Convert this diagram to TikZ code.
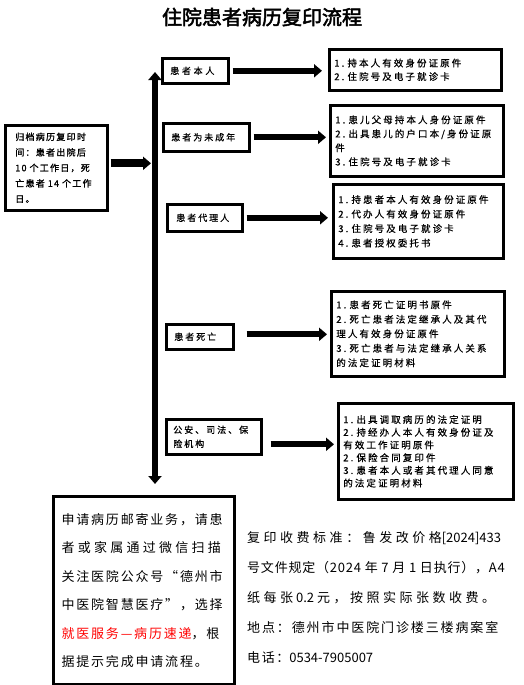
\documentclass[tikz,border=0pt]{standalone}
\usepackage{fontspec}
\setmainfont{Noto Sans CJK SC}
\newfontfamily\smallf[LetterSpace=22,FakeBold=0.6]{Noto Sans CJK SC}
\newfontfamily\smallbf[LetterSpace=14,FakeBold=1.5]{Noto Sans CJK SC}
\newfontfamily\bigf[LetterSpace=14]{Noto Sans CJK SC}
\newfontfamily\plainf{Noto Sans CJK SC}
\newfontfamily\titlef[FakeBold=2.5]{Noto Sans CJK SC}
\newcommand\lsp[2]{{\addfontfeature{LetterSpace=#1}#2}}
\usetikzlibrary{arrows.meta}
\begin{document}
\begin{tikzpicture}[x=1pt,y=-1pt,
  box/.style={draw,line width=2.6pt,anchor=north west,align=left,inner ysep=0pt,font=\smallf\fontsize{9.5}{14}\selectfont},
  big/.style={-{Triangle[length=8pt,width=13pt]},line width=6pt},
  bar/.style={{Triangle[length=8pt,width=13pt]}-{Triangle[length=8pt,width=13pt]},line width=6pt}]
\useasboundingbox (0,0) rectangle (524,685);
\node (title) at (262,17) {\titlef\fontsize{20}{24}\selectfont 住院患者病历复印流程};

% left box
\node[box,minimum width=102pt,minimum height=85pt,text width=82pt,inner xsep=10pt,font=\smallbf\fontsize{9}{15.5}\selectfont] (l) at (4,124)
  {归档病历复印时\\间：患者出院后\\10~个工作日，死\\亡患者~14~个工作\\日。};

% bar
\coordinate (bt) at (155,72);
\coordinate (bb) at (155,484);
\draw[bar] (bt) -- (bb);

% category boxes
\node[box,minimum width=66pt,minimum height=25pt,text width=50pt,inner xsep=8pt,font=\smallf\fontsize{9}{14}\selectfont\addfontfeature{LetterSpace=30}] (a) at (161,57) {患者本人};
\node[box,minimum width=86pt,minimum height=28pt,text width=70pt,inner xsep=8pt,font=\smallf\fontsize{9}{14}\selectfont] (b) at (162,122) {患者为未成年};
\node[box,minimum width=75pt,minimum height=27pt,text width=57pt,inner xsep=9pt,font=\smallf\fontsize{9}{14}\selectfont] (c) at (166,203) {患者代理人};
\node[box,minimum width=67pt,minimum height=25pt,text width=51pt,inner xsep=8pt,font=\smallf\fontsize{9}{14}\selectfont] (d) at (165,323) {患者死亡};
\node[box,minimum width=95pt,minimum height=35pt,text width=81pt,inner xsep=7pt,font=\smallf\fontsize{9}{14}\selectfont] (e) at (165,418) {公安、司法、保\\险机构};

% requirement boxes
\node[box,minimum width=172pt,minimum height=41pt,text width=162pt,inner xsep=5pt,font=\smallf\fontsize{9.5}{13.5}\selectfont] (r1) at (328,48)
  {1.~持本人有效身份证原件\\2.~住院号及电子就诊卡};
\node[box,minimum width=173pt,minimum height=71pt,text width=163pt,inner xsep=5pt] (r2) at (329,104)
  {1.~患儿父母持本人身份证原件\\2.~出具患儿的户口本/身份证原\\件\\3.~住院号及电子就诊卡};
\node[box,minimum width=170pt,minimum height=74pt,text width=160pt,inner xsep=5pt,font=\smallf\fontsize{9.5}{14.5}\selectfont] (r3) at (332,183)
  {1.~持患者本人有效身份证原件\\2.~代办人有效身份证原件\\3.~住院号及电子就诊卡\\4.~患者授权委托书};
\node[box,minimum width=173pt,minimum height=85pt,text width=163pt,inner xsep=5pt,font=\smallf\fontsize{9.5}{14.5}\selectfont] (r4) at (330,290)
  {1.~患者死亡证明书原件\\2.~死亡患者法定继承人及其代\\理人有效身份证原件\\3.~死亡患者与法定继承人关系\\的法定证明材料};
\node[box,minimum width=175pt,minimum height=96pt,text width=165pt,inner xsep=5pt,font=\smallf\fontsize{9.5}{12.7}\selectfont] (r5) at (337,402)
  {1.~出具调取病历的法定证明\\2.~持经办人本人有效身份证及\\有效工作证明原件\\2.~保险合同复印件\\3.~患者本人或者其代理人同意\\的法定证明材料};

% arrows
\draw[big,line width=8pt] ([xshift=2pt,yshift=4.5pt]l.east) -- ([xshift=-4pt,yshift=4.5pt]l.east -| bt);
\draw[big] ([xshift=3pt]a.east) -- ([xshift=-6pt]a.east -| r1.west);
\draw[big] ([xshift=3pt]b.east) -- ([xshift=-3pt]b.east -| r2.west);
\draw[big] ([xshift=3pt]c.east) -- ([xshift=-4pt]c.east -| r3.west);
\draw[big] ([xshift=12pt,yshift=2.5pt]d.east) -- ([xshift=-3pt,yshift=2.5pt]d.east -| r4.west);
\draw[big] ([xshift=8pt,yshift=-7.5pt]e.east) -- ([xshift=-3pt,yshift=-7.5pt]e.east -| r5.west);

% bottom box
\node[draw,line width=3pt,anchor=north west,minimum width=181pt,minimum height=188pt,text width=165pt,inner xsep=8pt,align=left,font=\bigf\fontsize{13}{28.4}\selectfont] (m) at (52,495)
  {申请病历邮寄业务，请患\\\lsp{25}{者或家属通过微信扫描}\\关注医院公众号“德州市\\中医院智慧医疗”，选择\\{\color{red}就医服务—病历速递}，根\\据提示完成申请流程。};

% right text
\node[anchor=north west,align=left,inner sep=0pt,font=\plainf\fontsize{13}{30}\selectfont] (n) at (247,531)
  {\lsp{27}{复印收费标准：鲁发改价格}[2024]433\\\lsp{6}{号文件规定（2024 年 7 月 1 日执行），A4}\\\lsp{27}{纸每张} 0.2 \lsp{27}{元，按照实际张数收费。}\\\lsp{14.5}{地点：德州市中医院门诊楼三楼病案室}\\\lsp{12}{电话：}0534-7905007};
\end{tikzpicture}
\end{document}
